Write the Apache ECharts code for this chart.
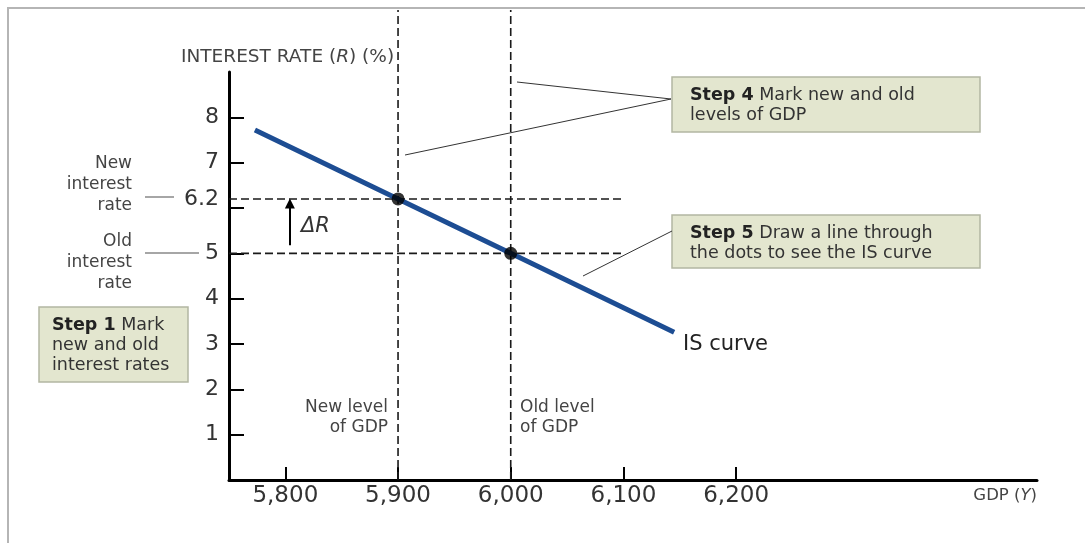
<!DOCTYPE html>
<html>
<head>
<meta charset="utf-8">
<script src="https://cdn.jsdelivr.net/npm/echarts@6/dist/echarts.min.js"></script>
<style>
html,body{margin:0;padding:0;background:#fff;}
#c{width:1085px;height:543px;}
</style>
</head>
<body>
<div id="c"></div>
<script>
// ---- data ----
const xTicks = [5800, 5900, 6000, 6100, 6200];
const yTicks = [1, 2, 3, 4, 5, 6, 7, 8];
const yLabels = [1, 2, 3, 4, 5, 6.2, 7, 8];
const isCurveX = [5773, 5900, 6000, 6145];
const isCurveY = [7.72, 6.2, 5.0, 3.26];
const dotX = [5900, 6000];
const dotY = [6.2, 5.0];
const newRate = 6.2, oldRate = 5.0;
const newGDP = 5900, oldGDP = 6000;
const guideEndX = 6100;      // horizontal guides end
const guideTopY = 10.37;     // vertical guides reach top of frame
const arrowX = 5804, arrowFrom = 5.18, arrowTo = 6.1;
const xMin = 5750, xMax = 6467, yMin = 0, yMax = 9;

const FONT = '"DejaVu Sans", Verdana, sans-serif';

const chart = echarts.init(document.getElementById('c'), null, {renderer: 'canvas'});

const dashed = {color: '#1a1a1a', width: 1.6, type: [8, 4]};
function guide(name, pts) {
  return {
    type: 'line', name: name, data: pts, symbol: 'none', clip: false,
    lineStyle: dashed, silent: true, z: 1, animation: false
  };
}

function box(x, y, w, h, pad, text) {
  return {
    type: 'group', x: x, y: y,
    children: [
      {type: 'rect', shape: {x: 0, y: 0, width: w, height: h},
       style: {fill: '#e3e6cf', stroke: '#b3b6a2', lineWidth: 1.5}},
      {type: 'text', x: pad, y: 8,
       style: {text: text, fontSize: 17.5, fontFamily: FONT, fill: '#333', lineHeight: 20,
         rich: {b: {fontWeight: 'bold', fontSize: 17.5, fontFamily: FONT, fill: '#222', lineHeight: 20}}}}
    ]
  };
}
function txt(x, y, text, size, align, extra) {
  return {type: 'text', x: x, y: y,
    style: Object.assign({text: text, fontSize: size, fontFamily: FONT, fill: '#444',
      textAlign: align || 'left', textVerticalAlign: 'middle'}, extra || {})};
}
function seg(pts, color, w) {
  return {type: 'polyline', shape: {points: pts}, style: {stroke: color, lineWidth: w, fill: null}};
}

const option = {
  animation: false,
  backgroundColor: '#fff',
  grid: {left: 229, right: 48, top: 72, bottom: 63, containLabel: false},
  xAxis: {
    type: 'value', min: xMin, max: xMax,
    name: 'GDP ({i|Y})', nameLocation: 'end', nameGap: 0,
    nameTextStyle: {align: 'right', verticalAlign: 'top', padding: [7, 0, 0, 0],
      fontSize: 16.5, fontFamily: FONT, color: '#444',
      rich: {i: {fontStyle: 'italic', fontSize: 16.5, fontFamily: FONT, color: '#444'}}},
    axisLine: {lineStyle: {color: '#000', width: 3}},
    axisTick: {show: true, inside: true, length: 13, lineStyle: {color: '#000', width: 2}, customValues: xTicks},
    axisLabel: {customValues: xTicks, fontSize: 23, fontFamily: FONT, color: '#333', margin: 5,
      formatter: v => String(v).replace(/(\d)(\d{3})$/, '$1,$2')},
    splitLine: {show: false}
  },
  yAxis: {
    type: 'value', min: yMin, max: yMax,
    axisLine: {show: true, lineStyle: {color: '#000', width: 3}},
    axisTick: {show: true, inside: true, length: 15, lineStyle: {color: '#000', width: 2}, customValues: yTicks},
    axisLabel: {customValues: yLabels, fontSize: 22, fontFamily: FONT, color: '#333', margin: 10,
      formatter: v => String(v)},
    splitLine: {show: false}
  },
  series: [
    guide('newRate', [[xMin, newRate], [guideEndX, newRate]]),
    guide('oldRate', [[xMin, oldRate], [guideEndX, oldRate]]),
    guide('newGDP', [[newGDP, yMin], [newGDP, guideTopY]]),
    guide('oldGDP', [[oldGDP, yMin], [oldGDP, guideTopY]]),
    {
      type: 'line', name: 'IS curve', data: isCurveX.map((x, i) => [x, isCurveY[i]]),
      symbol: 'none', lineStyle: {color: '#1d4d93', width: 5}, z: 3
    },
    {
      type: 'scatter', name: 'points', data: dotX.map((x, i) => [x, dotY[i]]),
      symbolSize: 13, itemStyle: {color: '#000'}, z: 4
    },
    {
      type: 'lines', coordinateSystem: 'cartesian2d', z: 3,
      data: [{coords: [[arrowX, arrowFrom], [arrowX, arrowTo]]}],
      symbol: ['none', 'triangle'], symbolSize: [0, 10],
      lineStyle: {color: '#000', width: 2, opacity: 1}
    }
  ],
  graphic: [
    {type: 'rect', shape: {x: 8, y: 8, width: 1200, height: 700},
     style: {fill: null, stroke: '#b5b5b5', lineWidth: 2}, silent: true},
    // y axis title
    {type: 'text', x: 181, y: 57, style: {text: 'INTEREST RATE ({i|R}) (%)', fontSize: 18.5, fontFamily: FONT,
      fill: '#444', textVerticalAlign: 'middle',
      rich: {i: {fontStyle: 'italic', fontSize: 18.5, fontFamily: FONT, fill: '#444'}}}},
    // left side labels
    txt(132, 185, 'New\ninterest\nrate', 17, 'right', {lineHeight: 21}),
    txt(132, 263, 'Old\ninterest\nrate', 17, 'right', {lineHeight: 21}),
    seg([[145, 197], [174, 197]], '#888', 1.5),
    seg([[145, 253], [199, 253]], '#888', 1.5),
    // delta R
    {type: 'text', x: 301, y: 227, style: {text: 'ΔR', fontSize: 21, fontFamily: FONT, fontStyle: 'italic',
      fill: '#333', textVerticalAlign: 'middle'}},
    // GDP level labels
    txt(388, 418, 'New level\nof GDP', 17, 'right', {lineHeight: 20}),
    txt(520, 418, 'Old level\nof GDP', 17, 'left', {lineHeight: 20}),
    // IS curve label
    txt(683, 345, 'IS curve', 21, 'left', {fill: '#222'}),
    // step boxes
    box(672, 77, 308, 55, 18, '{b|Step 4} Mark new and old\nlevels of GDP'),
    box(672, 215, 308, 53, 18, '{b|Step 5} Draw a line through\nthe dots to see the IS curve'),
    box(39, 307, 149, 75, 13, '{b|Step 1} Mark\nnew and old\ninterest rates'),
    // leader lines
    seg([[517, 82], [671, 99], [405, 155]], '#333', 1),
    seg([[583, 276], [672, 231]], '#333', 1)
  ]
};
chart.setOption(option);
</script>
</body>
</html>
